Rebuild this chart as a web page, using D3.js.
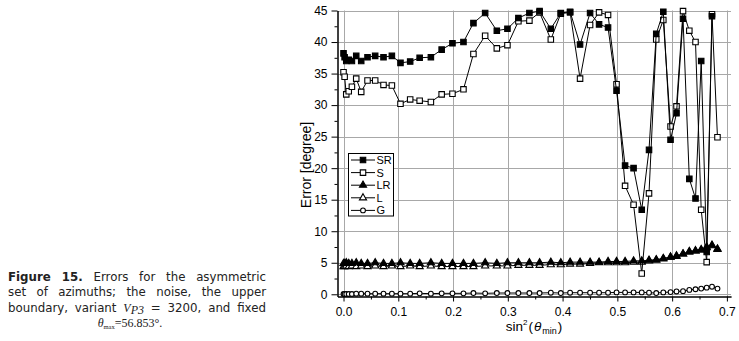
<!DOCTYPE html>
<html>
<head>
<meta charset="utf-8">
<script src="https://cdn.jsdelivr.net/npm/d3@7"></script>
<style>
    body { margin: 0; background: #fff; }
    #wrap { position: relative; width: 739px; height: 341px; overflow: hidden; }
    #chart { position: absolute; left: 0; top: 0; }
    .cap {
        position: absolute; left: 8px; top: 270px; width: 258px;
        font-family: "DejaVu Sans", Verdana, sans-serif; font-size: 11.8px;
        color: #222;
    }
    .cap div { height: 15.3px; line-height: 15.3px; white-space: nowrap; text-align: justify; text-align-last: justify; }
    .cap div.last { text-align: center; text-align-last: center; padding-right: 14px; margin-top: 1px; line-height: 13px; }
    .cap .s { font-family: "Liberation Serif", "Times New Roman", serif; font-size: 12px; }
    .cap sub { font-size: 6.5px; line-height: 0; vertical-align: -2px; }
    .axis text { font-family: "Liberation Sans", Arial, sans-serif; font-size: 12px; fill: #000; }
    .axis path, .axis line { stroke: #000; }
    .grid line { stroke: #a8a8a8; stroke-width: 1; }
    .lbl { font-family: "Liberation Sans", Arial, sans-serif; fill: #000; }
</style>
</head>
<body>
<div id="wrap">
    <svg id="chart" width="739" height="341"></svg>
    <div class="cap">
        <div><b>Figure 15.</b> Errors for the asymmetric</div>
        <div>set of azimuths; the noise, the upper</div>
        <div>boundary, variant <i class="s">V</i><sub class="s"><i>P3</i></sub> = 3200, and fixed</div>
        <div class="last"><span class="s"><i>θ</i><sub>max</sub>=56.853°.</span></div>
    </div>
</div>
<script>
// sin^2(theta_min) sample points
const xVals = [0, 0.002, 0.005, 0.0095, 0.0153, 0.0232, 0.0323, 0.0438, 0.0578, 0.073,
    0.0883, 0.104, 0.1217, 0.139, 0.1595, 0.1792, 0.1989, 0.219, 0.2372, 0.2586,
    0.2799, 0.2993, 0.3193, 0.3394, 0.358, 0.3785, 0.3967, 0.4137, 0.4319, 0.4502,
    0.4666, 0.483, 0.4985, 0.5141, 0.5296, 0.5445, 0.5578, 0.571, 0.5839, 0.5971,
    0.608, 0.6199, 0.6314, 0.6427, 0.6531, 0.6631, 0.6728, 0.6828];

const srVals = [38.2, 37.6, 37.0, 37.2, 37.0, 37.8, 37.0, 37.6, 37.8, 37.6,
    37.8, 36.7, 36.9, 37.5, 37.6, 38.8, 39.8, 40.0, 43.0, 44.6,
    41.8, 42.1, 43.8, 44.6, 44.9, 42.1, 44.6, 44.8, 39.6, 44.6,
    42.8, 42.3, 32.3, 20.4, 20.0, 13.4, 22.9, 41.3, 44.8, 24.5,
    28.7, 43.7, 18.3, 15.2, 37.0, 6.7, 44.1, null];

const sVals = [35.2, 34.5, 31.7, 32.2, 32.9, 34.2, 32.1, 33.9, 33.9, 33.2,
    33.1, 30.2, 30.9, 30.7, 30.5, 31.7, 31.8, 32.5, 38.1, 41.0,
    39.0, 39.5, 43.3, 43.4, 44.7, 40.4, 44.5, 44.7, 34.2, 42.7,
    44.7, 44.3, 33.3, 17.2, 14.2, 3.3, 16.0, 40.4, 43.5, 26.6,
    29.8, 44.9, 41.8, 40.0, 13.4, 5.1, 44.4, 24.9];

const lrVals = [4.9, 4.9, 5.0, 4.9, 4.9, 5.0, 4.9, 4.9, 5.0, 4.9,
    4.9, 5.0, 4.9, 4.9, 5.0, 4.9, 4.9, 4.9, 4.9, 5.0,
    4.9, 5.0, 5.0, 5.0, 5.0, 5.1, 5.0, 5.1, 5.1, 5.1,
    5.1, 5.2, 5.2, 5.2, 5.3, 5.3, 5.4, 5.5, 5.7, 5.9,
    6.1, 6.4, 6.8, 6.9, 7.1, 7.4, 7.8, 7.2];

const lVals = [4.4, 4.4, 4.5, 4.4, 4.5, 4.4, 4.5, 4.4, 4.5, 4.4,
    4.5, 4.4, 4.5, 4.4, 4.5, 4.4, 4.4, 4.4, 4.4, 4.5,
    4.5, 4.5, 4.6, 4.6, 4.6, 4.7, 4.7, 4.8, 4.8, 4.9,
    5.0, 5.0, 5.0, 5.0, 5.1, 5.1, 5.3, 5.4, 5.6, 5.9,
    6.0, 6.4, 6.7, 6.9, 7.0, 7.5, 7.7, 7.1];

const gVals = [0.05, 0.05, 0.05, 0.05, 0.05, 0.1, 0.1, 0.1, 0.1, 0.1,
    0.1, 0.1, 0.1, 0.15, 0.1, 0.15, 0.15, 0.15, 0.2, 0.15,
    0.2, 0.2, 0.2, 0.2, 0.2, 0.25, 0.2, 0.25, 0.25, 0.25,
    0.25, 0.25, 0.3, 0.3, 0.3, 0.3, 0.25, 0.2, 0.3, 0.35,
    0.45, 0.5, 0.7, 0.8, 0.9, 1.05, 1.2, 0.9];

const xTicks = [0, 0.1, 0.2, 0.3, 0.4, 0.5, 0.6, 0.7];
const xMinor = [0.05, 0.15, 0.25, 0.35, 0.45, 0.55, 0.65];
const yTicks = [0, 5, 10, 15, 20, 25, 30, 35, 40, 45];
const yMinor = [2.5, 7.5, 12.5, 17.5, 22.5, 27.5, 32.5, 37.5, 42.5];

const seriesNames = ['SR', 'S', 'LR', 'L', 'G'];

const svg = d3.select('#chart');

const x = d3.scaleLinear().domain([-0.011, 0.7075]).range([337.5, 731]);
const y = d3.scaleLinear().domain([-0.35, 45]).range([296.5, 10.5]);

// grid
const grid = svg.append('g').attr('class', 'grid');
grid.selectAll('.vg').data(xTicks).enter().append('line')
    .attr('x1', d => Math.round(x(d)) + 0.5).attr('x2', d => Math.round(x(d)) + 0.5)
    .attr('y1', y(45)).attr('y2', y.range()[0]);
grid.selectAll('.hg').data(yTicks).enter().append('line')
    .attr('x1', x.range()[0]).attr('x2', x.range()[1])
    .attr('y1', d => Math.round(y(d)) + 0.5).attr('y2', d => Math.round(y(d)) + 0.5);

// axes
svg.append('g').attr('class', 'axis')
    .attr('transform', 'translate(' + x.range()[0] + ',0)')
    .call(d3.axisLeft(y).tickValues(yTicks).tickSize(6).tickSizeOuter(0).tickPadding(4).tickFormat(d3.format('d')));
svg.append('g').attr('class', 'axis')
    .attr('transform', 'translate(' + x.range()[0] + ',0)')
    .call(d3.axisLeft(y).tickValues(yMinor).tickSize(3).tickSizeOuter(0).tickFormat(''));
svg.append('g').attr('class', 'axis')
    .attr('transform', 'translate(0,' + y.range()[0] + ')')
    .call(d3.axisBottom(x).tickValues(xTicks).tickSize(5).tickSizeOuter(0).tickPadding(6).tickFormat(d3.format('.1f')));
svg.append('g').attr('class', 'axis')
    .attr('transform', 'translate(0,' + y.range()[0] + ')')
    .call(d3.axisBottom(x).tickValues(xMinor).tickSize(3).tickSizeOuter(0).tickFormat(''));

// axis titles
svg.append('text').attr('class', 'lbl')
    .attr('transform', 'translate(311,165) rotate(-90)')
    .attr('text-anchor', 'middle').attr('font-size', 14)
    .text('Error [degree]');

const xt = svg.append('text').attr('class', 'lbl')
    .attr('x', 534).attr('y', 331).attr('text-anchor', 'middle').attr('font-size', 13.5);
xt.append('tspan').text('sin');
xt.append('tspan').attr('font-size', 8).attr('dy', -6).text('2');
xt.append('tspan').attr('dy', 6).attr('dx', 1).text('(');
xt.append('tspan').attr('font-style', 'italic').attr('dx', 1).text('θ');
xt.append('tspan').attr('font-size', 9).attr('dy', 3).attr('dx', 1).text('min');
xt.append('tspan').attr('dy', -3).attr('dx', 1).text(')');

// clip for lines
svg.append('clipPath').attr('id', 'plot-clip').append('rect')
    .attr('x', x.range()[0]).attr('y', y.range()[1] - 1)
    .attr('width', x.range()[1] - x.range()[0]).attr('height', y.range()[0] - y.range()[1] + 1);

const line = d3.line()
    .defined(d => d.v !== null)
    .x(d => x(d.x)).y(d => y(d.v));

function markers(g, type, filled, cx, cy) {
    const fill = filled ? '#000' : '#fff';
    if (type === 'circle') {
        g.append('circle').attr('cx', cx).attr('cy', cy).attr('r', 2.4)
            .attr('fill', fill).attr('stroke', '#000').attr('stroke-width', 1.1);
    } else {
        const sym = type === 'square' ? d3.symbolSquare : d3.symbolTriangle;
        const size = type === 'square' ? 30 : 22;
        g.append('path').attr('d', d3.symbol().type(sym).size(size)())
            .attr('transform', 'translate(' + cx + ',' + cy + ')')
            .attr('fill', fill).attr('stroke', '#000').attr('stroke-width', 1.1);
    }
}

const series = [
    {name: 'G', vals: gVals, type: 'circle', filled: false},
    {name: 'L', vals: lVals, type: 'triangle', filled: false},
    {name: 'LR', vals: lrVals, type: 'triangle', filled: true},
    {name: 'S', vals: sVals, type: 'square', filled: false},
    {name: 'SR', vals: srVals, type: 'square', filled: true},
];

series.forEach(s => {
    const pts = xVals.map((xv, i) => ({x: xv, v: s.vals[i]}));
    svg.append('path').datum(pts)
        .attr('clip-path', 'url(#plot-clip)')
        .attr('fill', 'none').attr('stroke', '#000').attr('stroke-width', 1)
        .attr('d', line);
    const mg = svg.append('g');
    pts.filter(d => d.v !== null).forEach(d => markers(mg, s.type, s.filled, x(d.x), y(d.v)));
});

// legend
const leg = svg.append('g');
leg.append('rect').attr('x', 348.5).attr('y', 153.5).attr('width', 45).attr('height', 62.5)
    .attr('fill', '#fff').attr('stroke', '#000').attr('stroke-width', 1);
seriesNames.forEach((n, i) => {
    const s = series.find(d => d.name === n);
    const ly = 160 + i * 12.6;
    leg.append('line').attr('x1', 351).attr('x2', 375).attr('y1', ly).attr('y2', ly)
        .attr('stroke', '#000').attr('stroke-width', 1);
    markers(leg, s.type, s.filled, 363, ly);
    leg.append('text').attr('class', 'lbl').attr('x', 376.5).attr('y', ly + 4)
        .attr('font-size', 11).text(n);
});
</script>
</body>
</html>
